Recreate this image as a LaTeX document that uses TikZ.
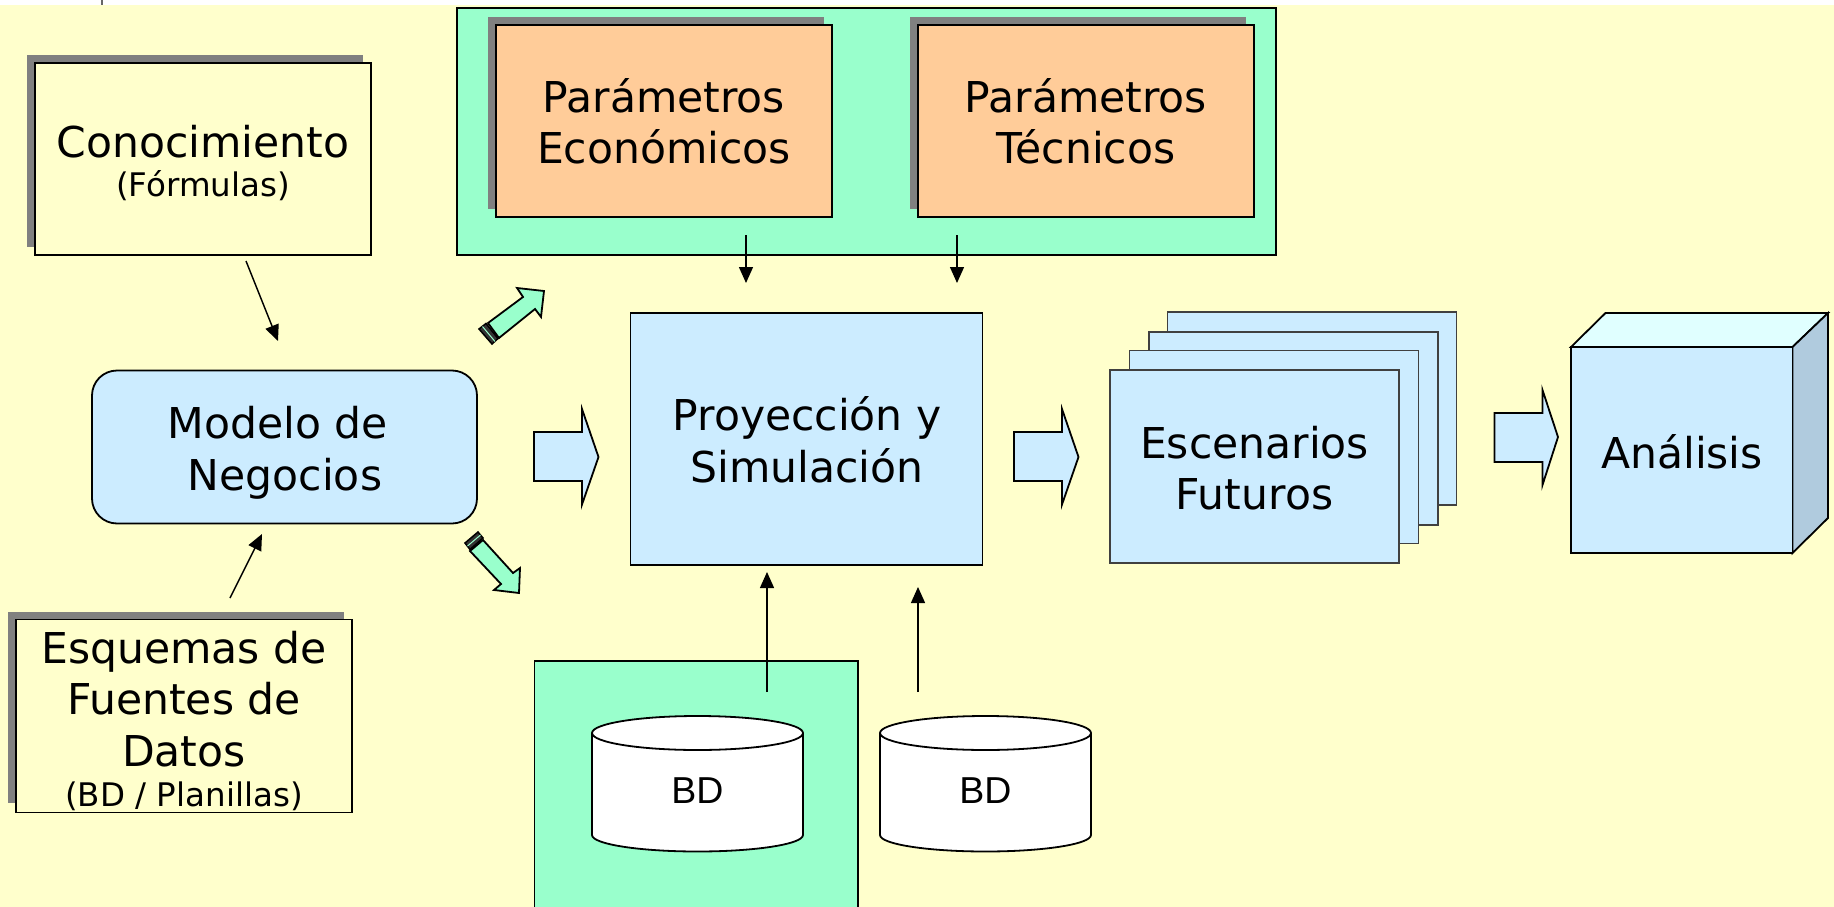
\documentclass[tikz,border=0pt]{standalone}
\usepackage{fontspec}
\setmainfont{DejaVu Sans}
\newfontfamily\bdfont{Liberation Sans}
\usetikzlibrary{arrows.meta}
\definecolor{bgyellow}{HTML}{FFFFCC}
\definecolor{lblue}{HTML}{CCECFF}
\definecolor{mint}{HTML}{99FFCC}
\definecolor{peach}{HTML}{FFCC99}
\definecolor{shade}{HTML}{808080}
\definecolor{cubetop}{HTML}{E0FFFF}
\definecolor{cubeside}{HTML}{B0CBDE}
\tikzset{
  boxbase/.style={draw=black,line width=1.8pt,inner sep=0pt,outer sep=0pt,rectangle},
  sized/.style n args={2}{minimum width=#1 pt,minimum height=#2 pt},
  shadowbox/.style={fill=shade,inner sep=0pt,outer sep=0pt,rectangle},
  sheet/.style={draw=black!75,line width=1.1pt,fill=lblue,inner sep=0pt,outer sep=0pt,rectangle},
  bigtext/.style={font=\fontsize{42.5pt}{51.5pt}\selectfont,align=center,inner sep=0pt},
  smalltext/.style={font=\fontsize{32.5pt}{36pt}\selectfont,align=center,inner sep=0pt},
  bdtext/.style={font=\bdfont\fontsize{37.5pt}{40pt}\selectfont,inner sep=0pt},
  conn/.style={draw=black,line width=1.4pt,-{Triangle[length=16pt,width=14pt]}},
  blockarrow/.style={draw=black,line width=1.8pt,fill=lblue,line join=miter},
  mintarrow/.style={draw=black,line width=1.8pt,fill=mint,line join=miter},
  cyl/.style={draw=black,line width=1.8pt,fill=white},
}
\begin{document}
\begin{tikzpicture}[x=1pt,y=-1pt]
\useasboundingbox (0,0) rectangle (1834,907);
\fill[white] (0,0) rectangle (1834,907);
\fill[bgyellow] (0,5) rectangle (1834,907);
\draw[draw=black!60,line width=1.5pt] (102,0) -- (102,5);

% Conocimiento
\node[shadowbox,sized={336}{192}] (conoshadow) at (195,151) {};
\node[boxbase,fill=bgyellow,sized={336}{192.5}] (cono) at (203,159) {};
\node[bigtext] (conotext) at (203,142) {Conocimiento};
\node[smalltext] (formtext) at (203,186) {(Fórmulas)};

% Top green panel
\node[boxbase,fill=mint,sized={819}{247}] (toppanel) at (866.5,131.5) {};
\node[shadowbox,sized={336}{192}] (ecoshadow) at (656,113) {};
\node[boxbase,fill=peach,sized={336}{192}] (eco) at (664,121) {};
\node[bigtext] (ecotext) at (664,121.5) {Parámetros\\Económicos};
\node[shadowbox,sized={336}{192}] (tecshadow) at (1078,113) {};
\node[boxbase,fill=peach,sized={336}{192}] (tec) at (1086,121) {};
\node[bigtext] (tectext) at (1086,121.5) {Parámetros\\Técnicos};

% Modelo
\node[boxbase,fill=lblue,rounded corners=25pt,sized={385}{153}] (modelo) at (284.5,447) {};
\node[bigtext] (modelotext) at (285,453) {Modelo de\hspace*{14pt}\\Negocios};

% Proyeccion
\node[boxbase,fill=lblue,sized={352}{252.5}] (proy) at (806.5,439) {};
\node[bigtext] (proytext) at (807,440) {Proyección y\\Simulación};

% Escenarios sheets
\node[sheet,sized={289}{193}] (esc4) at (1312,408.5) {};
\node[sheet,sized={289}{193}] (esc3) at (1293.5,428.5) {};
\node[sheet,sized={289}{193}] (esc2) at (1274,447) {};
\node[sheet,sized={289}{193}] (esc1) at (1254.5,466.5) {};
\node[bigtext] (esctext) at (1254.5,468) {Escenarios\\Futuros};

% Analisis cube
\path[draw=black,line width=1.8pt,fill=cubetop,line join=miter] (1571,347) -- (1605.5,313) -- (1828,313) -- (1792.5,347) -- cycle;
\path[draw=black,line width=1.8pt,fill=cubeside,line join=miter] (1792.5,347) -- (1828,313) -- (1828,518) -- (1792.5,553) -- cycle;
\node[boxbase,fill=lblue,sized={221.5}{206}] (analisis) at (1681.75,450) {};
\node[bigtext] (analisistext) at (1682,451.5) {Análisis};

% Esquemas
\node[shadowbox,sized={336}{191}] (esqshadow) at (176,707.5) {};
\node[boxbase,fill=bgyellow,sized={336}{193}] (esq) at (184,716) {};
\node[bigtext] (esqtext) at (184,699) {Esquemas de\\Fuentes de\\Datos};
\node[smalltext] (esqsub) at (184,796) {(BD / Planillas)};

% Bottom green panel
\fill[mint] (534.5,661) rectangle (858,907);
\draw[black,line width=1.8pt] (534.5,907) -- (534.5,661) -- (858,661) -- (858,907);

% Cylinders
\path[cyl] (592,835) arc[start angle=180,end angle=360,x radius=105.5pt,y radius=16.5pt] -- (803,733) arc[start angle=0,end angle=180,x radius=105.5pt,y radius=17pt] -- cycle;
\draw[black,line width=1.8pt] (592,733) arc[start angle=180,end angle=360,x radius=105.5pt,y radius=17pt];
\node[bdtext] (bd1) at (697.5,791) {BD};
\path[cyl] (880,835) arc[start angle=180,end angle=360,x radius=105.5pt,y radius=16.5pt] -- (1091,733) arc[start angle=0,end angle=180,x radius=105.5pt,y radius=17pt] -- cycle;
\draw[black,line width=1.8pt] (880,733) arc[start angle=180,end angle=360,x radius=105.5pt,y radius=17pt];
\node[bdtext] (bd2) at (985.5,791) {BD};

% Block arrows
\path[blockarrow] (534,432) -- (582,432) -- (582,409) -- (598.5,457) -- (582,504.5) -- (582,481) -- (534,481) -- cycle;
\path[blockarrow] (1014,432) -- (1062,432) -- (1062,409) -- (1078.5,457) -- (1062,504.5) -- (1062,481) -- (1014,481) -- cycle;
\path[blockarrow] (1494.5,413) -- (1542.5,413) -- (1542.5,390) -- (1558,437) -- (1542.5,485) -- (1542.5,462) -- (1494.5,462) -- cycle;

% Mint arrows
\path[mintarrow] (488,323) -- (523,297) -- (517,288) -- (544,291) -- (541,317) -- (535,309) -- (499,338) -- cycle;
\path[draw=black,line width=1.5pt,fill=black!80] (479,329) -- (486,323.5) -- (498,338.5) -- (492,344) -- cycle;
\draw[mint,line width=1pt] (482.5,326.5) -- (495,341.5);
\path[mintarrow] (470,551) -- (483,540) -- (513,573) -- (520,568) -- (519,593) -- (494,590) -- (501,584) -- cycle;
\path[draw=black,line width=1.5pt,fill=black!80] (465,543) -- (478,532) -- (483,538) -- (470,549.5) -- cycle;
\draw[mint,line width=1pt] (467.5,546) -- (480.5,535);

% Connectors (free ends)
\coordinate (c1a) at (246,261); \coordinate (c1b) at (278,341);
\draw[conn] (c1a) -- (c1b);
\coordinate (c2a) at (230,598); \coordinate (c2b) at (262,534);
\draw[conn] (c2a) -- (c2b);
\coordinate (c3a) at (746,235); \coordinate (c3b) at (746,283);
\draw[conn] (c3a) -- (c3b);
\coordinate (c4a) at (957,235); \coordinate (c4b) at (957,283);
\draw[conn] (c4a) -- (c4b);
\coordinate (c5a) at (767,692); \coordinate (c5b) at (767,572);
\draw[conn] (c5a) -- (c5b);
\coordinate (c6a) at (918,692); \coordinate (c6b) at (918,587);
\draw[conn] (c6a) -- (c6b);
\end{tikzpicture}
\end{document}
